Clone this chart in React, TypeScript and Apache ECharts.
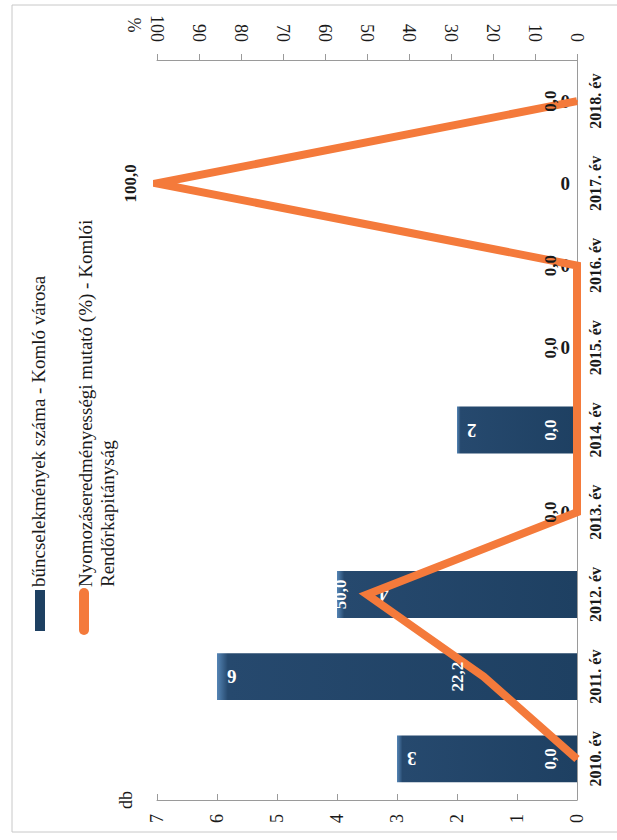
import React, { useEffect, useRef } from "react";
import * as echarts from "echarts";

const categories = [
  "2010. év",
  "2011. év",
  "2012. év",
  "2013. év",
  "2014. év",
  "2015. év",
  "2016. év",
  "2017. év",
  "2018. év",
];
const crimeCounts = [3, 6, 4, 0, 2, 0, 0, 0, 0];
const clearanceRates = [0, 22.2, 50, 0, 0, 0, 0, 100, 0];
const seriesNames = [
  "bűncselekmények száma - Komló városa",
  "Nyomozáseredményességi mutató (%) - Komlói\nRendőrkapitányság",
];
const dbAxisName = "db";
const pctAxisName = "%";

const SERIF = "'Liberation Serif', 'Times New Roman', serif";
const BAR_COLOR = "#1e4062";
const LINE_COLOR = "#f47a3b";
const AXIS_COLOR = "#9a9a9a";
const TEXT_COLOR = "#1a1a1a";

export default function App() {
  const ref = useRef<HTMLDivElement>(null);

  useEffect(() => {
    if (!ref.current) return;
    const chart = echarts.init(ref.current, null, { renderer: "svg" });

    const barData = crimeCounts.map((v, i) => {
      if (v === 0) {
        return {
          value: v,
          label: { position: "left", align: "left", color: TEXT_COLOR, distance: 7 },
        };
      }
      // the label that would collide with the line's value label is pushed further in
      if (clearanceRates[i] > 30) {
        return { value: v, label: { distance: 42 } };
      }
      return { value: v };
    });
    const lineData = clearanceRates.map((v, i) => ({
      value: v,
      label: { color: crimeCounts[i] > 0 ? "#ffffff" : TEXT_COLOR },
    }));

    const option: any = {
      animation: false,
      backgroundColor: "#ffffff",
      grid: { left: 157, right: 40, top: 60, bottom: 40 },
      xAxis: [
        {
          type: "value",
          position: "bottom",
          min: 0,
          max: 7,
          interval: 1,
          inverse: true,
          axisLine: { show: true, lineStyle: { color: AXIS_COLOR, width: 1 } },
          axisTick: { show: true, inside: true, length: 6, lineStyle: { color: AXIS_COLOR } },
          splitLine: { show: false },
          axisLabel: {
            rotate: 90,
            margin: 14,
            fontFamily: SERIF,
            fontSize: 18,
            color: TEXT_COLOR,
          },
        },
        {
          type: "value",
          position: "top",
          min: 0,
          max: 100,
          interval: 10,
          inverse: true,
          axisLine: { show: true, lineStyle: { color: AXIS_COLOR, width: 1 } },
          axisTick: { show: true, length: 6, lineStyle: { color: AXIS_COLOR } },
          splitLine: { show: false },
          axisLabel: {
            rotate: 90,
            margin: 18,
            fontFamily: SERIF,
            fontSize: 18,
            color: TEXT_COLOR,
          },
        },
      ],
      yAxis: {
        type: "category",
        position: "right",
        data: categories,
        axisLine: { show: true, lineStyle: { color: AXIS_COLOR, width: 1 } },
        axisTick: { show: false },
        axisLabel: {
          rotate: 90,
          align: "center",
          verticalAlign: "top",
          margin: 10,
          fontFamily: SERIF,
          fontWeight: "bold",
          fontSize: 16,
          color: TEXT_COLOR,
        },
      },
      series: [
        {
          name: seriesNames[0],
          type: "bar",
          xAxisIndex: 0,
          yAxisIndex: 0,
          data: barData,
          barWidth: "57%",
          z: 2,
          itemStyle: {
            color: {
              type: "linear",
              x: 0,
              y: 0,
              x2: 1,
              y2: 0,
              colorStops: [
                { offset: 0, color: "#5585b5" },
                { offset: 0.03, color: "#26496e" },
                { offset: 1, color: BAR_COLOR },
              ],
            },
          },
          label: {
            show: true,
            position: "insideLeft",
            rotate: 180,
            align: "right",
            verticalAlign: "middle",
            distance: 10,
            color: "#ffffff",
            fontFamily: SERIF,
            fontWeight: "bold",
            fontSize: 19,
          },
        },
        {
          name: seriesNames[1],
          type: "line",
          xAxisIndex: 1,
          yAxisIndex: 0,
          data: lineData,
          z: 5,
          symbol: "circle",
          symbolSize: 2,
          itemStyle: { color: LINE_COLOR },
          lineStyle: { color: LINE_COLOR, width: 8, join: "miter", miterLimit: 20 },
          label: {
            show: true,
            position: "left",
            distance: 17,
            rotate: 90,
            align: "center",
            verticalAlign: "bottom",
            fontFamily: SERIF,
            fontWeight: "bold",
            fontSize: 17,
            formatter: (p: any) => Number(p.value).toFixed(1).replace(".", ","),
          },
        },
      ],
      graphic: [
        {
          type: "rect",
          silent: true,
          z: -10,
          shape: { x: 12, y: 5, width: 640, height: 827 },
          style: { fill: "none", stroke: "#c8c8c8", lineWidth: 1 },
        },
        {
          type: "rect",
          shape: { x: 35, y: 590, width: 10, height: 41 },
          style: { fill: BAR_COLOR },
        },
        {
          type: "text",
          x: 29,
          y: 587,
          rotation: Math.PI / 2,
          style: {
            text: seriesNames[0],
            font: `19px ${SERIF}`,
            fill: TEXT_COLOR,
            textAlign: "left",
            textVerticalAlign: "top",
          },
        },
        {
          type: "rect",
          shape: { x: 79, y: 588, width: 10, height: 47, r: 5 },
          style: { fill: LINE_COLOR },
        },
        {
          type: "text",
          x: 74,
          y: 587,
          rotation: Math.PI / 2,
          style: {
            text: seriesNames[1],
            font: `19px ${SERIF}`,
            lineHeight: 22,
            fill: TEXT_COLOR,
            textAlign: "left",
            textVerticalAlign: "top",
          },
        },
        {
          type: "text",
          x: 126,
          y: 800,
          rotation: Math.PI / 2,
          style: {
            text: dbAxisName,
            font: `18px ${SERIF}`,
            fill: TEXT_COLOR,
            textAlign: "center",
            textVerticalAlign: "middle",
          },
        },
        {
          type: "text",
          x: 135,
          y: 25,
          rotation: Math.PI / 2,
          style: {
            text: pctAxisName,
            font: `18px ${SERIF}`,
            fill: TEXT_COLOR,
            textAlign: "center",
            textVerticalAlign: "middle",
          },
        },
      ],
    };

    chart.setOption(option);
    return () => chart.dispose();
  }, []);

  return (
    <div
      ref={ref}
      style={{ position: "absolute", left: 0, top: 0, width: 617, height: 840 }}
    />
  );
}
